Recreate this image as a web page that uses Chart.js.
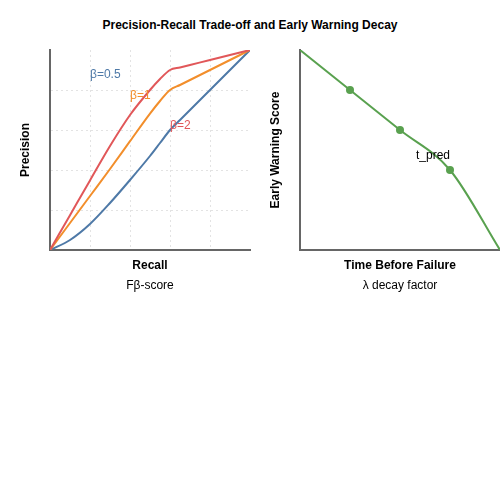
<!DOCTYPE html>
<html>
<head>
<meta charset="utf-8">
<script src="https://cdn.jsdelivr.net/npm/chart.js@4"></script>
<style>
  html, body { margin: 0; padding: 0; background: #fff; overflow: hidden; }
  #wrap { position: relative; width: 500px; height: 500px; font-family: "Liberation Sans", Arial, sans-serif; }
  #mainTitle { position: absolute; top: 18px; left: 0; width: 500px; text-align: center; font-weight: bold; font-size: 12px; line-height: 14px; color: #000; }
  canvas { position: absolute; top: 0; }
  #prChart { left: 0; }
  #ewChart { left: 260px; }
</style>
</head>
<body>
<div id="wrap">
  <div id="mainTitle">Precision-Recall Trade-off and Early Warning Decay</div>
  <canvas id="prChart" width="260" height="300"></canvas>
  <canvas id="ewChart" width="240" height="300"></canvas>
</div>
<script>
// --- data ---
const recall = [0, 0.1, 0.2, 0.3, 0.4, 0.5, 0.55, 0.6, 0.65, 0.7, 0.8, 0.9, 1];
const precBetaHalf = [0, 0.174, 0.348, 0.52, 0.675, 0.8, 0.855, 0.9, 0.9125, 0.925, 0.95, 0.975, 1];
const precBetaOne = [0, 0.135, 0.27, 0.405, 0.544, 0.682, 0.745, 0.8, 0.825, 0.85, 0.9, 0.95, 1];
const precBetaTwo = [0, 0.05, 0.13, 0.235, 0.35, 0.47, 0.535, 0.6, 0.65, 0.7, 0.8, 0.9, 1];
const betaNames = ['β=0.5', 'β=1', 'β=2'];

const timeBefore = [0, 0.25, 0.5, 0.75, 1];
const warningScore = [1, 0.8, 0.6, 0.4, 0];
const markerName = 't_pred';

Chart.defaults.font.family = '"Liberation Sans", Arial, sans-serif';
Chart.defaults.font.size = 12;
Chart.defaults.color = '#000';
Chart.defaults.animation = false;

const toXY = (xs, ys) => xs.map((x, i) => ({ x: x, y: ys[i] }));

// draws text labels at data coordinates
const textLabels = {
  id: 'textLabels',
  afterDatasetsDraw(chart, args, opts) {
    const { ctx, scales } = chart;
    ctx.save();
    ctx.font = '12px "Liberation Sans", Arial, sans-serif';
    ctx.textAlign = 'left';
    ctx.textBaseline = 'middle';
    (opts.items || []).forEach(it => {
      ctx.fillStyle = it.color;
      ctx.fillText(it.text, scales.x.getPixelForValue(it.x), scales.y.getPixelForValue(it.y));
    });
    ctx.restore();
  }
};

const gridColor = c => {
  const v = c.tick ? c.tick.value : 0;
  return (Math.abs(v) < 1e-6 || Math.abs(v - 1) < 1e-6) ? 'rgba(0,0,0,0)' : '#e3e3e3';
};

function lineSet(data, color) {
  return {
    data: data,
    borderColor: color,
    borderWidth: 2,
    pointRadius: 0,
    fill: false,
    cubicInterpolationMode: 'monotone'
  };
}

new Chart(document.getElementById('prChart'), {
  type: 'line',
  data: {
    datasets: [
      lineSet(toXY(recall, precBetaHalf), '#e15759'),
      lineSet(toXY(recall, precBetaOne), '#f28e2b'),
      lineSet(toXY(recall, precBetaTwo), '#4e79a7')
    ]
  },
  options: {
    responsive: false,
    layout: { padding: { top: 50, right: 10, bottom: 6.8, left: 0 } },
    scales: {
      x: {
        type: 'linear', min: 0, max: 1,
        ticks: { display: false, stepSize: 0.2 },
        grid: { color: gridColor, lineWidth: 1, drawTicks: false },
        border: { color: '#666', width: 2, dash: [2, 3] },
        title: { display: true, text: 'Recall', font: { weight: 'bold' }, padding: { top: 8.8, bottom: 0 } }
      },
      y: {
        type: 'linear', min: 0, max: 1,
        ticks: { display: false, stepSize: 0.2 },
        grid: { color: gridColor, lineWidth: 1, drawTicks: false },
        border: { color: '#666', width: 2, dash: [2, 3] },
        title: { display: true, text: 'Precision', font: { weight: 'bold' }, padding: { top: 18.8, bottom: 16.8 } }
      }
    },
    plugins: {
      legend: { display: false },
      tooltip: { enabled: false },
      title: {
        display: true, position: 'bottom', fullSize: false, text: 'Fβ-score',
        font: { weight: 'normal', size: 12 }, padding: { top: 5.6, bottom: 0 }
      },
      textLabels: {
        items: [
          { text: betaNames[0], x: 0.2, y: 0.875, color: '#4e79a7' },
          { text: betaNames[1], x: 0.4, y: 0.77, color: '#f28e2b' },
          { text: betaNames[2], x: 0.6, y: 0.62, color: '#e15759' }
        ]
      }
    }
  },
  plugins: [textLabels]
});

new Chart(document.getElementById('ewChart'), {
  type: 'line',
  data: {
    datasets: [{
      data: toXY(timeBefore, warningScore),
      borderColor: '#59a14f',
      backgroundColor: '#59a14f',
      borderWidth: 2,
      pointRadius: [0, 4, 4, 4, 0],
      pointBorderWidth: 0,
      pointBackgroundColor: '#59a14f',
      fill: false,
      cubicInterpolationMode: 'monotone'
    }]
  },
  options: {
    responsive: false,
    layout: { padding: { top: 50, right: 0, bottom: 6.8, left: 0 } },
    scales: {
      x: {
        type: 'linear', min: 0, max: 1,
        ticks: { display: false },
        grid: { display: false, drawTicks: false },
        border: { color: '#666', width: 2 },
        title: { display: true, text: 'Time Before Failure', font: { weight: 'bold' }, padding: { top: 8.8, bottom: 0 } }
      },
      y: {
        type: 'linear', min: 0, max: 1,
        ticks: { display: false },
        grid: { display: false, drawTicks: false },
        border: { color: '#666', width: 2 },
        title: { display: true, text: 'Early Warning Score', font: { weight: 'bold' }, padding: { top: 8.8, bottom: 16.8 } }
      }
    },
    plugins: {
      legend: { display: false },
      tooltip: { enabled: false },
      title: {
        display: true, position: 'bottom', fullSize: false, text: 'λ decay factor',
        font: { weight: 'normal', size: 12 }, padding: { top: 5.6, bottom: 0 }
      },
      textLabels: {
        items: [{ text: markerName, x: 0.58, y: 0.47, color: '#000' }]
      }
    }
  },
  plugins: [textLabels]
});
</script>
</body>
</html>
